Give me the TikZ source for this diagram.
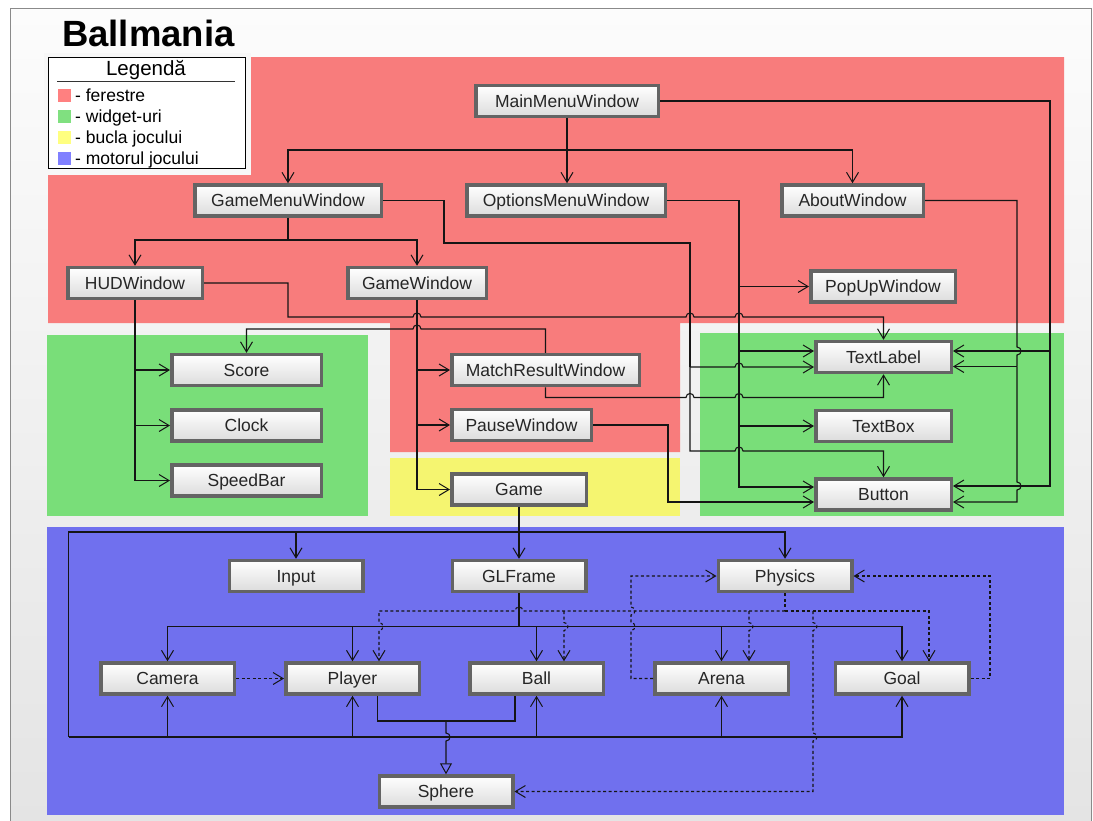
\documentclass[tikz,border=0pt]{standalone}
\usepackage{fontspec}
\setmainfont{Liberation Sans}
\usetikzlibrary{arrows.meta}
\definecolor{rwin}{HTML}{F87C7C}
\definecolor{gwid}{HTML}{79DE79}
\definecolor{yloop}{HTML}{F5F570}
\definecolor{beng}{HTML}{7070EE}
\definecolor{lred}{HTML}{FF8080}
\definecolor{lgreen}{HTML}{80E080}
\definecolor{lyellow}{HTML}{FFFF80}
\definecolor{lblue}{HTML}{8080FF}
\definecolor{boxline}{HTML}{646464}
\definecolor{boxbot}{HTML}{DCDCDC}
\definecolor{linec}{HTML}{151515}
\definecolor{bgtop}{HTML}{FCFCFC}
\definecolor{bgbot}{HTML}{E4E4E4}
\definecolor{framec}{HTML}{8A8A8A}
\tikzset{
  box/.style={draw=boxline, line width=3.5pt, top color=white, bottom color=boxbot,
    minimum height=31pt, inner sep=0pt, text=black!85, text height=12.6pt, text depth=0pt,
    font=\fontsize{17.5}{20}\selectfont},
  conn/.style={draw=linec, line width=1.1pt},
  arr/.style={conn, -{Straight Barb[length=10pt,width=12pt,line width=1pt]}},
  dconn/.style={conn, dash pattern=on 3pt off 2.5pt},
  darr/.style={arr, dash pattern=on 3pt off 2.5pt},
  inh/.style={conn, -{Triangle[open,length=11pt,width=12pt,line width=1pt]}},
  hr/.style args={#1,#2}{insert path={-- ({#1-4},{#2}) .. controls ({#1-4},{#2-5.3}) and ({#1+4},{#2-5.3}) .. ({#1+4},{#2})}},
  hl/.style args={#1,#2}{insert path={-- ({#1+4},{#2}) .. controls ({#1+4},{#2-5.3}) and ({#1-4},{#2-5.3}) .. ({#1-4},{#2})}},
  vd/.style args={#1,#2}{insert path={-- ({#1},{#2-4}) .. controls ({#1+5.3},{#2-4}) and ({#1+5.3},{#2+4}) .. ({#1},{#2+4})}},
  vu/.style args={#1,#2}{insert path={-- ({#1},{#2+4}) .. controls ({#1+5.3},{#2+4}) and ({#1+5.3},{#2-4}) .. ({#1},{#2-4})}},
  legtxt/.style={anchor=base west, inner sep=0pt, font=\fontsize{17.5}{20}\selectfont},
}
\begin{document}
\begin{tikzpicture}[x=1pt,y=-1pt]
\useasboundingbox (0,0) rectangle (1093,820);
\fill[white] (0,0) rectangle (1093,820);
\shade[top color=bgtop,bottom color=bgbot] (10,8) rectangle (1092,822);
\draw[framec, line width=1pt] (10,822) -- (10,8) -- (1091,8) -- (1091,822);

% regions
\fill[rwin] (48,57) -- (1064,57) -- (1064,323) -- (680,323) -- (680,452) -- (390,452) -- (390,323) -- (48,323) -- cycle;
\fill[gwid] (47,335) rectangle (368,516);
\fill[yloop] (390,458) rectangle (680,516);
\fill[gwid] (700,333) rectangle (1064,516);
\fill[beng] (47,527) rectangle (1064,815);

% title
\node[anchor=base west, inner sep=0pt, font=\fontsize{36.5}{40}\selectfont\bfseries] (title) at (62,46) {Ballmania};

% legend
\fill[white!97!black] (44,53) rectangle (251,175);
\node[draw=black, fill=white, line width=0.8pt, minimum width=197pt, minimum height=111pt, inner sep=0pt, anchor=north west] (leg) at (48,57) {};
\node[anchor=base, inner sep=0pt, font=\fontsize{20.5}{24}\selectfont] (legt) at (146,75) {Legendă};
\draw[black!80, line width=0.8pt] (57,81) -- (235,81);
\fill[lred] (58,89) rectangle (71,102);
\fill[lgreen] (58,110) rectangle (71,123);
\fill[lyellow] (58,131) rectangle (71,144);
\fill[lblue] (58,152) rectangle (71,165);
\node[legtxt] (l1) at (75,101) {- ferestre};
\node[legtxt] (l2) at (75,122) {- widget-uri};
\node[legtxt] (l3) at (75,143) {- bucla jocului};
\node[legtxt] (l4) at (75,164) {- motorul jocului};

% nodes
\node[box, minimum width=182.5pt] (mm) at (567,101) {MainMenuWindow};
\node[box, minimum width=186.5pt] (gmw) at (288,200.5) {GameMenuWindow};
\node[box, minimum width=198.5pt] (omw) at (566,200.5) {OptionsMenuWindow};
\node[box, minimum width=141.5pt] (aw) at (852.5,200.5) {AboutWindow};
\node[box, minimum width=134.5pt] (hud) at (135,283) {HUDWindow};
\node[box, minimum width=138.5pt] (gw) at (417,283) {GameWindow};
\node[box, minimum width=144.5pt] (pop) at (883,286.5) {PopUpWindow};
\node[box, minimum width=149.5pt] (score) at (246.5,370) {Score};
\node[box, minimum width=149.5pt] (clock) at (246.5,425.5) {Clock};
\node[box, minimum width=149.5pt] (speed) at (246.5,480.5) {SpeedBar};
\node[box, minimum width=187.5pt] (mrw) at (545.5,370) {MatchResultWindow};
\node[box, minimum width=139.5pt] (pw) at (521.5,425) {PauseWindow};
\node[box, minimum width=134.5pt] (game) at (519,489.5) {Game};
\node[box, minimum width=135.5pt] (tl) at (883.5,357) {TextLabel};
\node[box, minimum width=135.5pt] (tb) at (883.5,426) {TextBox};
\node[box, minimum width=135.5pt] (btn) at (883.5,494.5) {Button};
\node[box, minimum width=133.5pt] (input) at (296,576) {Input};
\node[box, minimum width=133.5pt] (glf) at (519,576) {GLFrame};
\node[box, minimum width=133.5pt] (phys) at (785,576) {Physics};
\node[box, minimum width=133.5pt] (cam) at (167.5,678.5) {Camera};
\node[box, minimum width=133.5pt] (player) at (352.5,678.5) {Player};
\node[box, minimum width=133.5pt] (ball) at (536.5,678.5) {Ball};
\node[box, minimum width=133.5pt] (arena) at (721.5,678.5) {Arena};
\node[box, minimum width=133.5pt] (goal) at (902,678.5) {Goal};
\node[box, minimum width=133.5pt] (sphere) at (446,791.5) {Sphere};

% MainMenuWindow
\draw[conn] (mm.south) -- (mm.south |- 0,150) coordinate (jmm);
\draw[arr] (jmm) -- (omw.north -| jmm);
\draw[arr] (jmm) -| (gmw.north);
\draw[arr] (jmm) -| (aw.north);
\draw[conn] (mm.east) -| (1050,351) coordinate (jmr);
\draw[arr] (jmr) -- (tl.east |- jmr);
\draw[arr] (jmr) |- (btn.east |- 0,486);
% AboutWindow
\draw[conn] (aw.east) -| (1017,340) [vd={1017,351}] -- (1017,366.5) coordinate (jaw);
\draw[arr] (jaw) -- (tl.east |- jaw);
\draw[arr] (jaw) [vd={1017,486}] |- (btn.east |- 0,502);
% GameMenuWindow
\draw[conn] (gmw.south) -- (gmw.south |- 0,240) coordinate (jg);
\draw[arr] (jg) -| (hud.north);
\draw[arr] (jg) -| (gw.north);
\draw[conn] (gmw.east) -| (444,243) -| (690,367) coordinate (jg2);
\draw[arr] (jg2) [hr={739,367}] -- (tl.west |- jg2);
\draw[arr] (jg2) |- (700,451) [hr={739,451}] -| (btn.north);
% HUDWindow
\draw[arr] (hud.east) -| (288,317) [hr={417,317}] [hr={690,317}] [hr={739,317}] -| (tl.north);
\draw[conn] (hud.south) -- (hud.south |- score.west) coordinate (jh1) -- (hud.south |- clock.west) coordinate (jh2);
\draw[arr] (jh1) -- (score.west);
\draw[arr] (jh2) -- (clock.west);
\draw[arr] (jh2) |- (speed.west);
% OptionsMenuWindow
\draw[conn] (omw.east) -| (739,286.5) coordinate (jo1);
\draw[arr] (jo1) -- (pop.west);
\draw[conn] (jo1) -- (739,351) coordinate (jo2);
\draw[arr] (jo2) -- (tl.west |- jo2);
\draw[conn] (jo2) -- (739,426) coordinate (jo3);
\draw[arr] (jo3) -- (tb.west);
\draw[arr] (jo3) |- (btn.west |- 0,487);
% MatchResultWindow
\draw[arr] (mrw.south) |- (680,397.5) [hr={690,397.5}] [hr={739,397.5}] -| (tl.south);
\draw[arr] (mrw.north) |- (430,329) [hl={417,329}] -| (score.north);
% PauseWindow
\draw[arr] (pw.east) -| (668,502) -- (btn.west |- 0,502);
% GameWindow
\draw[conn] (gw.south) -- (gw.south |- mrw.west) coordinate (jw1) -- (gw.south |- pw.west) coordinate (jw2);
\draw[arr] (jw1) -- (mrw.west);
\draw[arr] (jw2) -- (pw.west);
\draw[arr] (jw2) |- (game.west);

% Game
\draw[conn] (game.south) -- (game.south |- 0,532) coordinate (jgm);
\draw[arr] (jgm) -- (glf.north);
\draw[arr] (jgm) -| (phys.north);
\draw[conn] (jgm) -- (input.north |- jgm) coordinate (ji) -- (68.5,532) -- (68.5,737) coordinate (jl);
\draw[arr] (ji) -- (input.north);
\draw[conn] (jl) -- (cam.south |- jl) coordinate (jb1) -- (player.south |- jl) coordinate (jb2)
  -- (ball.south |- jl) coordinate (jb3) -- (arena.south |- jl) coordinate (jb4);
\draw[arr] (jb1) -- (cam.south);
\draw[arr] (jb2) -- (player.south);
\draw[arr] (jb3) -- (ball.south);
\draw[arr] (jb4) -- (arena.south);
\draw[arr] (jb4) -| (goal.south);
% GLFrame
\draw[conn] (glf.south) -- (glf.south |- 0,626.5) coordinate (jf);
\draw[arr] (jf) -| (cam.north);
\draw[arr] (jf) -| (goal.north);
\draw[arr] (player.north |- jf) -- (player.north);
\draw[arr] (ball.north |- jf) -- (ball.north);
\draw[arr] (arena.north |- jf) -- (arena.north);
% Physics (dashed)
\draw[dconn] (phys.south) -- (785,611) coordinate (jp);
\coordinate (jpb) at (564,611);
\coordinate (jpa) at (749,611);
\coordinate (jpc) at (813,611);
\draw[darr] (jp) -- (530,611) [hl={519,611}] -| (379,615) [vd={379,626.5}] -- (player.north -| 379,0);
\draw[darr] (jpb) [vd={564,626.5}] -- (ball.north -| jpb);
\draw[darr] (jpa) [vd={749,626.5}] -- (arena.north -| jpa);
\draw[darr] (jp) -| (goal.north -| 929,0);
\draw[darr] (jpc) [vd={813,626.5}] [vd={813,737}] |- (sphere.east);
\draw[darr] (arena.west) -| (631,640) [vu={631,626.5}] [vu={631,611}] |- (phys.west);
\draw[darr] (goal.east) -| (990,576) -- (phys.east);
\draw[darr] (cam.east) -- (player.west);
% inheritance
\coordinate (jn) at (446,721);
\draw[conn] (player.south -| 377.5,0) |- (jn) -| (ball.south -| 515,0);
\draw[inh] (jn) [vd={446,737}] -- (sphere.north);
\end{tikzpicture}
\end{document}
